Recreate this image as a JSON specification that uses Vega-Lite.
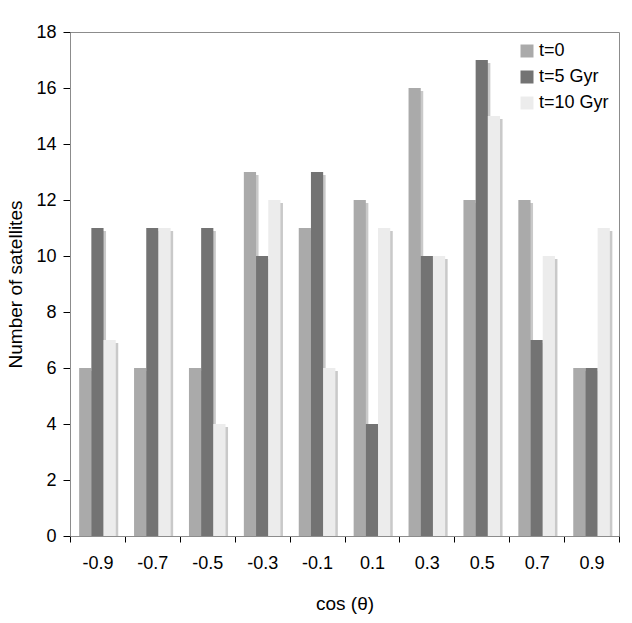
{
  "$schema": "https://vega.github.io/schema/vega-lite/v6.json",
  "autosize": "none",
  "width": 549,
  "height": 504,
  "padding": {"left": 70, "top": 32, "right": 13, "bottom": 87},
  "background": "white",
  "config": {
    "font": "Liberation Sans",
    "view": {"stroke": "#8c8c8c", "strokeWidth": 1},
    "axis": {"labelFont": "Liberation Sans", "titleFont": "Liberation Sans", "labelColor": "#000", "titleColor": "#000", "titleFontWeight": "normal", "domainColor": "#8c8c8c", "tickColor": "#000", "grid": false}
  },
  "data": {
    "values": [
      {"cos": "-0.9", "series": "t=0", "count": 6},
      {"cos": "-0.9", "series": "t=5 Gyr", "count": 11},
      {"cos": "-0.9", "series": "t=10 Gyr", "count": 7},
      {"cos": "-0.7", "series": "t=0", "count": 6},
      {"cos": "-0.7", "series": "t=5 Gyr", "count": 11},
      {"cos": "-0.7", "series": "t=10 Gyr", "count": 11},
      {"cos": "-0.5", "series": "t=0", "count": 6},
      {"cos": "-0.5", "series": "t=5 Gyr", "count": 11},
      {"cos": "-0.5", "series": "t=10 Gyr", "count": 4},
      {"cos": "-0.3", "series": "t=0", "count": 13},
      {"cos": "-0.3", "series": "t=5 Gyr", "count": 10},
      {"cos": "-0.3", "series": "t=10 Gyr", "count": 12},
      {"cos": "-0.1", "series": "t=0", "count": 11},
      {"cos": "-0.1", "series": "t=5 Gyr", "count": 13},
      {"cos": "-0.1", "series": "t=10 Gyr", "count": 6},
      {"cos": "0.1", "series": "t=0", "count": 12},
      {"cos": "0.1", "series": "t=5 Gyr", "count": 4},
      {"cos": "0.1", "series": "t=10 Gyr", "count": 11},
      {"cos": "0.3", "series": "t=0", "count": 16},
      {"cos": "0.3", "series": "t=5 Gyr", "count": 10},
      {"cos": "0.3", "series": "t=10 Gyr", "count": 10},
      {"cos": "0.5", "series": "t=0", "count": 12},
      {"cos": "0.5", "series": "t=5 Gyr", "count": 17},
      {"cos": "0.5", "series": "t=10 Gyr", "count": 15},
      {"cos": "0.7", "series": "t=0", "count": 12},
      {"cos": "0.7", "series": "t=5 Gyr", "count": 7},
      {"cos": "0.7", "series": "t=10 Gyr", "count": 10},
      {"cos": "0.9", "series": "t=0", "count": 6},
      {"cos": "0.9", "series": "t=5 Gyr", "count": 6},
      {"cos": "0.9", "series": "t=10 Gyr", "count": 11}
    ]
  },
  "encoding": {
    "x": {
      "field": "cos", "type": "nominal", "sort": null,
      "scale": {"paddingInner": 0, "paddingOuter": 0},
      "axis": {"title": "cos (θ)", "labelAngle": 0, "tickBand": "extent", "labelFontSize": 18, "titleFontSize": 19, "tickSize": 6, "labelPadding": 12, "titlePadding": 22}
    },
    "y": {
      "field": "count", "type": "quantitative",
      "scale": {"domain": [0, 18], "nice": false},
      "axis": {"title": "Number of satellites", "values": [0,2,4,6,8,10,12,14,16,18], "labelFontSize": 18, "titleFontSize": 19, "tickSize": 7, "labelPadding": 7, "titlePadding": 10}
    }
  },
  "layer": [
    {
      "mark": {"type": "bar", "yOffset": 3, "color": "#c9c9c9", "clip": true},
      "encoding": {
        "xOffset": {
          "field": "series", "type": "nominal", "sort": ["t=0", "t=5 Gyr", "t=10 Gyr"],
          "scale": {"paddingInner": 0, "paddingOuter": 0.75, "range": [2.5, 57.4]}
        }
      }
    },
    {
      "mark": {"type": "bar"},
      "encoding": {
        "xOffset": {
          "field": "series", "type": "nominal", "sort": ["t=0", "t=5 Gyr", "t=10 Gyr"],
          "scale": {"paddingInner": 0, "paddingOuter": 0.75}
        },
        "color": {
          "field": "series", "type": "nominal", "sort": ["t=0", "t=5 Gyr", "t=10 Gyr"],
          "scale": {"domain": ["t=0", "t=5 Gyr", "t=10 Gyr"], "range": ["#aaaaaa", "#737373", "#ececec"]},
          "legend": {"title": null, "orient": "none", "legendX": 448, "legendY": 10, "symbolType": "square", "symbolSize": 169, "symbolStrokeWidth": 0, "labelFontSize": 18, "labelFont": "Liberation Sans", "labelColor": "#000", "rowPadding": 8, "labelOffset": 3}
        }
      }
    }
  ],
  "resolve": {"scale": {"xOffset": "independent"}}
}
